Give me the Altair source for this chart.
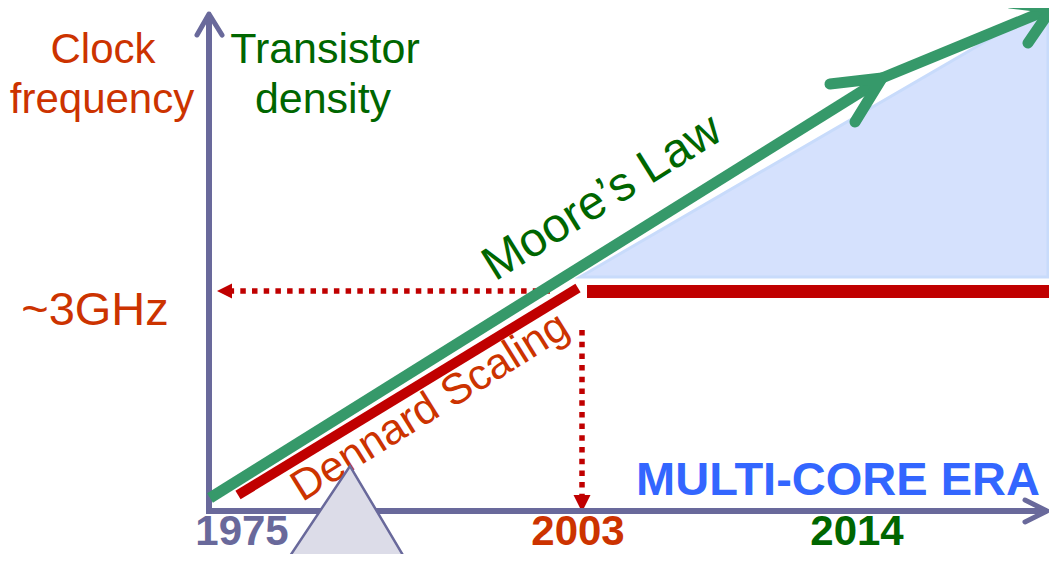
import altair as alt
import pandas as pd

# Diagram units: x = distance right of the vertical axis, y = height above the time axis.
# ---- axes (with open chevron heads)
axis_v_x = [0, 0]
axis_v_y = [-1, 497]
axis_v_head_x = [-12, 0, 13]
axis_v_head_y = [476, 497, 476]
axis_h_x = [-3, 838]
axis_h_y = [0, 0]
axis_h_head_x = [816, 838, 816]
axis_h_head_y = [11, 0, -11]

# ---- Moore's law (transistor density), two arrowed segments
moore1_x = [1, 671]
moore1_y = [13, 431]
moore1_head_x = [621, 673, 646]
moore1_head_y = [427, 433, 389]
moore2_x = [673, 843]
moore2_y = [433, 503]
moore2_head_x = [801, 843, 819]
moore2_head_y = [508, 503, 468]

# ---- Dennard scaling (clock frequency) and the ~3GHz plateau
dennard_x = [29, 369]
dennard_y = [16, 223]
plateau_x = [378, 840]
plateau_y = [219.5, 219.5]

# ---- multi-core era gap (shaded)
gap_x = [371, 839]
gap_top = [234, 506]
gap_base = [234, 234]

# ---- dotted guides to the axes
freq_guide_x = [341, 23]
freq_guide_y = [220, 220]
freq_head_x = [15.5]
freq_head_y = [220]
year_guide_x = [373, 373]
year_guide_y = [181, 16]
year_head_x = [373]
year_head_y = [7.5]

# ---- pointer triangle
pointer_x = [77, 141, 198]
pointer_top = [-51, 45, -51]
pointer_base = [-51, -51, -51]

# ---- text labels
reg_labels = ["Clock", "frequency", "Transistor", "density", "~3GHz", "Moore\u2019s Law", "Dennard Scaling"]
reg_x = [-106, -107, 116, 114, -114, 401, 228]
reg_y = [448, 398, 448, 398, 186, 301, 93]
reg_color = ["#cc3300", "#cc3300", "#006600", "#006600", "#cc3300", "#006600", "#cc3300"]
reg_size = [42, 42, 43, 43, 47, 48, 43]
reg_angle = [0, 0, 0, 0, 0, 328, 328]

bold_labels = ["MULTI-CORE ERA", "1975", "2003", "2014"]
bold_x = [629, 33, 369, 648]
bold_y = [16, -34, -34, -34]
bold_color = ["#3366ff", "#69699b", "#cc3300", "#006600"]
bold_size = [47, 42, 42, 42]

AXIS = "#69699b"
GREEN = "#36996a"
RED = "#c00000"
FONT = "Liberation Sans"

xs = alt.Scale(domain=[-201, 840], nice=False, zero=False)
ys = alt.Scale(domain=[-43, 503], nice=False, zero=False)


def X(f="x"):
    return alt.X(f"{f}:Q", scale=xs, axis=None)


def Y(f="y"):
    return alt.Y(f"{f}:Q", scale=ys, axis=None)


def line(xv, yv, color, width, cap="butt", dash=None):
    df = pd.DataFrame({"x": xv, "y": yv, "i": list(range(len(xv)))})
    kw = dict(color=color, strokeWidth=width, strokeCap=cap, strokeJoin="round")
    if dash:
        kw["strokeDash"] = dash
    return alt.Chart(df).mark_line(**kw).encode(x=X(), y=Y(), order=alt.Order("i:Q"))


def area(xv, top, base, fill, stroke, sw):
    df = pd.DataFrame({"x": xv, "y": top, "y2": base})
    return alt.Chart(df).mark_area(fill=fill, stroke=stroke, strokeWidth=sw, opacity=1).encode(
        x=X(), y=Y(), y2="y2:Q"
    )


def head(xv, yv, shape, size):
    df = pd.DataFrame({"x": xv, "y": yv})
    return alt.Chart(df).mark_point(shape=shape, size=size, filled=True, color=RED, opacity=1).encode(
        x=X(), y=Y()
    )


reg_df = pd.DataFrame({"t": reg_labels, "x": reg_x, "y": reg_y, "c": reg_color,
                       "s": reg_size, "a": reg_angle})
bold_df = pd.DataFrame({"t": bold_labels, "x": bold_x, "y": bold_y, "c": bold_color, "s": bold_size})

reg_text = alt.Chart(reg_df).mark_text(font=FONT, align="center", baseline="alphabetic").encode(
    x=X(), y=Y(), text="t:N",
    color=alt.Color("c:N", scale=None),
    size=alt.Size("s:Q", scale=None),
    angle=alt.Angle("a:Q", scale=None),
)
bold_text = alt.Chart(bold_df).mark_text(font=FONT, fontWeight="bold", align="center",
                                         baseline="alphabetic").encode(
    x=X(), y=Y(), text="t:N",
    color=alt.Color("c:N", scale=None),
    size=alt.Size("s:Q", scale=None),
)

layers = [
    area(gap_x, gap_top, gap_base, "#d5e1fd", "#c8dbfb", 3),
    line(plateau_x, plateau_y, RED, 13),
    line(freq_guide_x, freq_guide_y, RED, 5.5, dash=[5.5, 6.2]),
    line(year_guide_x, year_guide_y, RED, 5.5, dash=[5.5, 6.2]),
    head(freq_head_x, freq_head_y, "M-1,0L1,-1L1,1Z", 225),
    head(year_head_x, year_head_y, "M-1,-1L1,-1L0,1Z", 289),
    line(axis_v_x, axis_v_y, AXIS, 6),
    line(axis_v_head_x, axis_v_head_y, AXIS, 5, cap="round"),
    line(axis_h_x, axis_h_y, AXIS, 6),
    line(axis_h_head_x, axis_h_head_y, AXIS, 5, cap="round"),
    line(moore1_x, moore1_y, GREEN, 11),
    line(moore1_head_x, moore1_head_y, GREEN, 11, cap="round"),
    line(moore2_x, moore2_y, GREEN, 11),
    line(moore2_head_x, moore2_head_y, GREEN, 11, cap="round"),
    line(dennard_x, dennard_y, RED, 10),
    reg_text,
    bold_text,
    area(pointer_x, pointer_top, pointer_base, "#dcdce8", AXIS, 2.5),
]

chart = alt.layer(*layers).properties(
    width=1041, height=546, padding=0, autosize="none", background="white"
).configure_view(stroke=None)

chart.save("out.html", embed_options={"renderer": "svg", "actions": False})
